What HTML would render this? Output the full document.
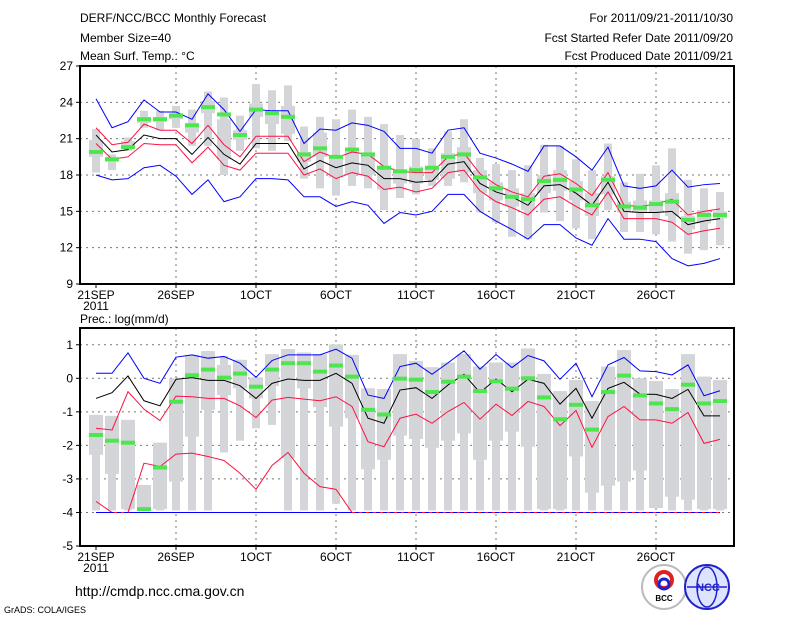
<!DOCTYPE html>
<html><head><meta charset="utf-8"><style>
body{margin:0;background:#fff;}
svg{display:block;font-family:"Liberation Sans",sans-serif;}
</style></head><body>
<svg id="c" width="800" height="618" xmlns="http://www.w3.org/2000/svg">
<g font-size="12" fill="#000">
<text x="80" y="22">DERF/NCC/BCC Monthly Forecast</text>
<text x="80" y="42">Member Size=40</text>
<text x="80" y="60">Mean Surf. Temp.: °C</text>
<text x="733" y="22" text-anchor="end">For 2011/09/21-2011/10/30</text>
<text x="733" y="42" text-anchor="end">Fcst Started Refer Date 2011/09/20</text>
<text x="733" y="60" text-anchor="end">Fcst Produced Date 2011/09/21</text>
<text x="80" y="323">Prec.: log(mm/d)</text>
</g>
<text x="75" y="596" font-size="14">http://cmdp.ncc.cma.gov.cn</text>
<text x="4" y="613" font-size="9">GrADS: COLA/IGES</text>
<g>
<circle cx="664" cy="587" r="22" fill="#fff" stroke="#bbb" stroke-width="2"/>
<circle cx="664" cy="580" r="8" fill="none" stroke="#d22" stroke-width="4"/>
<circle cx="664" cy="584" r="5" fill="none" stroke="#22c" stroke-width="3"/>
<text x="664" y="601" font-size="8" text-anchor="middle" font-weight="bold">BCC</text>
</g>
<g>
<circle cx="707" cy="587" r="22" fill="#dde4ff" stroke="#22c" stroke-width="2"/>
<ellipse cx="707" cy="587" rx="10" ry="20" fill="none" stroke="#22c" stroke-width="1.5"/>
<line x1="687" y1="587" x2="727" y2="587" stroke="#22c" stroke-width="1.5"/>
<text x="708" y="591" font-size="11" text-anchor="middle" fill="#22c" font-weight="bold">NCC</text>
</g>
</svg>
<script>
// ---- Temperature data ----
const tBlueHi=[24.3,21.9,22.4,24.2,23.2,23.2,22.6,24.7,23.4,21.6,23.4,23.3,23.3,20.6,21.8,21.7,22.3,22.1,21.6,20.2,20.2,19.8,21.7,21.9,19.8,19.4,18.9,18.3,20.4,20.4,19.5,18.4,20.3,17.1,16.9,17.1,18.4,17.0,17.2,17.3];
const tRedHi=[21.9,20.5,20.7,22.2,21.7,21.7,20.6,22.1,20.5,19.5,21.2,21.2,21.2,19.1,19.9,19.4,19.9,19.7,18.7,18.3,18.2,18.2,19.5,19.8,18.1,17.2,16.6,16.2,17.9,18.1,17.3,16.3,18.2,15.5,15.4,15.6,16.0,14.7,15.0,15.2];
const tMean=[21.3,19.9,20.1,21.3,21.0,21.0,19.7,21.1,19.7,18.9,20.6,20.6,20.6,18.5,19.2,18.6,19.0,18.8,17.7,17.7,17.4,17.5,18.9,19.1,17.3,16.6,16.2,15.5,17.1,17.2,16.5,15.5,17.4,15.0,14.9,14.9,15.0,13.9,14.2,14.4];
const tRedLo=[20.6,19.3,19.5,20.6,20.5,20.5,19.0,20.3,18.8,18.4,19.8,19.8,19.8,18.0,18.5,17.7,18.2,17.9,16.8,17.0,16.6,16.9,18.2,18.4,16.7,15.8,15.3,14.7,16.0,16.2,15.4,14.7,16.6,14.4,14.4,14.4,14.1,13.1,13.4,13.6];
const tBlueLo=[18.0,17.6,17.7,18.6,18.8,17.9,16.4,17.6,15.8,16.2,17.7,17.7,17.6,16.2,16.2,15.4,15.8,15.5,14.0,14.9,14.7,15.0,16.4,16.4,15.0,14.2,13.5,12.7,13.9,13.9,12.8,12.2,14.4,12.7,12.7,12.5,11.1,10.5,10.7,11.1];
const tObs=[19.9,19.3,20.3,22.6,22.6,22.9,22.1,23.6,23.0,21.3,23.4,23.1,22.8,19.7,20.2,19.5,20.1,19.7,18.6,18.3,18.4,18.6,19.5,19.7,17.8,16.9,16.2,16.0,17.5,17.6,16.8,15.5,17.6,15.4,15.3,15.6,15.8,14.3,14.7,14.7];
const tMax=[21.8,19.7,21.1,23.3,23.3,23.7,23.4,24.9,24.4,22.9,25.5,25.0,25.4,22.0,22.8,22.6,23.4,22.8,22.2,21.3,21.0,20.2,21.6,22.6,19.4,18.9,18.4,18.8,20.5,20.4,19.3,18.4,20.6,17.4,18.1,18.8,20.2,17.6,16.9,16.6];
const tQ3=[20.9,19.5,20.8,22.8,22.8,23.1,22.3,24.1,22.6,21.7,23.9,23.3,23.7,19.9,21.5,19.4,19.9,19.7,18.7,18.4,18.7,18.7,19.8,20.3,18.4,17.4,16.9,16.5,18.0,18.4,17.5,16.5,17.9,15.8,15.9,15.9,16.5,14.6,15.1,15.0];
const tQ1=[19.5,19.1,20.2,22.3,22.4,22.6,21.5,23.1,19.3,20.9,22.8,22.2,21.4,19.1,19.5,17.8,18.0,18.0,16.8,17.3,17.3,17.6,17.7,18.2,16.5,15.9,15.4,15.1,16.5,16.7,15.9,14.6,16.4,14.9,14.9,14.9,14.6,13.5,14.0,14.4];
const tMin=[18.2,18.4,20.0,21.9,21.7,21.9,20.4,20.4,18.0,20.0,20.2,20.0,20.8,17.7,16.9,16.3,17.1,16.9,15.1,16.1,16.4,17.1,17.1,17.4,14.9,14.1,12.9,12.7,14.9,14.2,13.6,12.7,15.1,13.3,13.3,13.1,12.5,11.5,11.8,12.2];
const tTicks=[9,12,15,18,21,24,27];
// ---- Precipitation data ----
const pBlueHi=[0.15,0.15,0.76,0.0,-0.15,0.63,0.7,0.6,0.65,0.45,0.03,0.53,0.7,0.7,0.7,0.87,0.6,-0.5,-0.6,0.35,0.45,0.12,0.46,0.82,0.27,0.71,0.32,0.68,0.52,-0.03,0.45,-0.55,0.40,0.62,0.22,0.2,0.1,0.4,-0.52,-0.37];
const pMean=[-0.6,-0.43,0.07,-0.67,-0.82,-0.03,0.02,-0.06,-0.06,-0.22,-0.6,-0.15,-0.02,-0.06,-0.06,0.15,-0.15,-1.19,-1.34,-0.35,-0.28,-0.6,-0.2,0.12,-0.43,-0.02,-0.4,-0.03,-0.15,-0.77,-0.3,-1.19,-0.3,-0.12,-0.47,-0.48,-0.6,-0.33,-1.12,-1.12];
const pRedHi=[-1.49,-1.54,-0.4,-0.92,-1.26,-0.53,-0.55,-0.6,-0.6,-0.82,-1.17,-0.65,-0.57,-0.62,-0.67,-0.55,-0.84,-1.89,-2.04,-1.19,-1.07,-1.34,-0.99,-0.72,-1.22,-0.77,-1.11,-0.69,-0.84,-1.41,-0.96,-2.06,-1.14,-0.84,-1.24,-1.24,-1.34,-1.02,-1.94,-1.82];
const pRedLo=[-3.67,-4,-4,-2.53,-2.63,-2.26,-2.23,-2.33,-2.45,-2.83,-3.31,-2.6,-2.21,-2.83,-3.23,-3.31,-4,-4,-4,-4,-4,-4,-4,-4,-4,-4,-4,-4,-4,-4,-4,-4,-4,-4,-4,-4,-4,-4,-4,-4];
const pBlueLo=[-4,-4,-4,-4,-4,-4,-4,-4,-4,-4,-4,-4,-4,-4,-4,-4,-4,-4,-4,-4,-4,-4,-4,-4,-4,-4,-4,-4,-4,-4,-4,-4,-4,-4,-4,-4,-4,-4,-4,-4];
const pObs=[-1.69,-1.86,-1.92,-3.9,-2.66,-0.7,0.09,0.26,0.02,0.14,-0.25,0.26,0.45,0.45,0.2,0.38,0.05,-0.94,-1.08,-0.01,-0.04,-0.41,-0.1,0.05,-0.38,-0.09,-0.31,0.0,-0.57,-1.22,-0.79,-1.53,-0.41,0.08,-0.51,-0.75,-0.92,-0.19,-0.75,-0.68];
const pMax=[-1.09,-1.12,-1.24,-3.18,-1.92,0.0,0.7,0.81,0.67,0.55,0.03,0.72,0.87,0.77,0.72,1.01,0.7,-0.3,-0.32,0.72,0.52,0.33,0.47,0.72,0.35,0.47,0.47,0.89,0.13,-0.38,-0.05,-0.68,0.35,0.84,0.0,-0.08,-0.32,0.72,0.05,-0.05];
const pQ3=[-1.09,-1.12,-1.24,-3.18,-1.92,0.0,0.7,0.81,0.4,0.55,0.03,0.72,0.87,0.77,0.72,1.01,0.7,-0.3,-0.32,0.72,0.52,0.33,0.47,0.72,0.35,0.47,0.47,0.89,0.13,-0.38,-0.05,-0.68,0.35,0.84,0.0,-0.08,-0.32,0.72,0.05,-0.05];
const pQ1=[-2.28,-2.85,-3.9,-3.9,-3.9,-3.08,-1.74,-0.94,-0.5,-0.3,-0.6,-0.23,-2.38,-0.3,-0.86,-1.44,-1.19,-2.71,-2.43,-1.71,-1.81,-2.07,-1.86,-1.64,-2.43,-1.86,-1.59,-2.04,-3.9,-3.9,-2.33,-3.41,-3.2,-3.08,-2.75,-3.87,-3.53,-3.62,-3.9,-3.9];
const pMin=[-3.94,-3.94,-3.94,-3.94,-3.94,-3.94,-3.94,-3.94,-2.21,-1.86,-1.49,-1.39,-3.94,-3.94,-3.94,-3.74,-3.94,-3.94,-3.94,-3.94,-3.94,-3.94,-3.94,-3.94,-3.94,-3.94,-3.94,-3.94,-3.94,-3.94,-3.94,-3.94,-3.94,-3.94,-3.94,-3.87,-3.94,-3.94,-3.94,-3.94];
const pTicks=[-5,-4,-3,-2,-1,0,1];
const xLabels=["21SEP","26SEP","1OCT","6OCT","11OCT","16OCT","21OCT","26OCT"];

const NS="http://www.w3.org/2000/svg";
const svg=document.getElementById('c');
const X0=80,X1=734;
const xOf=d=>96+16*d;
function mk(tag,attrs,parent){const e=document.createElementNS(NS,tag);for(const k in attrs)e.setAttribute(k,attrs[k]);(parent||svg).appendChild(e);return e;}

function panel(name,top,bot,vmin,vmax,ticks,series,boxes,obs,dashed){
  const g=mk('g',{});
  
  
  const yOf=v=>bot-(v-vmin)/(vmax-vmin)*(bot-top);
  // grid
  ticks.forEach(t=>{
    const y=yOf(t);
    if(t!==vmin&&t!==vmax){const l=mk('line',{x1:X0,x2:X1,y1:y,y2:y,stroke:'#777','stroke-dasharray':'2,4','stroke-width':1},g);
    
    }
    const tl=mk('line',{x1:76,x2:X0,y1:y,y2:y,stroke:'#000'},g);
    
    
    const tx=mk('text',{x:73,y:y+4,'text-anchor':'end','font-size':12},g);
    tx.textContent=t;
    
    
  });
  xLabels.forEach((lab,i)=>{
    const x=xOf(i*5);
    if(i>0){const l=mk('line',{x1:x,x2:x,y1:top,y2:bot,stroke:'#777','stroke-dasharray':'2,4'},g);
    
    }
    const tk=mk('line',{x1:x,x2:x,y1:bot,y2:bot+4,stroke:'#000'},g);
    
    
    const tx=mk('text',{x:x,y:bot+15,'text-anchor':'middle','font-size':12},g);
    tx.textContent=lab;
    
    
  });
  const yr=mk('text',{x:96,y:bot+26,'text-anchor':'middle','font-size':12},g);
  yr.textContent='2011';
  
  
  // boxes
  const [mx,q3,q1,mn]=boxes;
  mx.forEach((v,d)=>{
    const x=xOf(d);
    const w=mk('rect',{x:x-4,y:yOf(mx[d]),width:8,height:Math.max(1,yOf(mn[d])-yOf(mx[d])),fill:'#d4d5d9'},g);
    
    
    const b=mk('rect',{x:x-7,y:yOf(q3[d]),width:14,height:Math.max(1,yOf(q1[d])-yOf(q3[d])),fill:'#d4d5d9'},g);
    
    
  });
  series.forEach(([arr,col,nm])=>{
    const p=mk('polyline',{points:arr.map((v,d)=>xOf(d)+','+yOf(v)).join(' '),fill:'none',stroke:col,'stroke-width':1},g);
    
    
  });
  if(dashed){
    const dl=mk('line',{x1:xOf(0),x2:xOf(39),y1:yOf(-4),y2:yOf(-4),stroke:'#00f','stroke-dasharray':'4,3'},g);
    
    
  }
  obs.forEach((v,d)=>{
    const r=mk('rect',{x:xOf(d)-7,y:yOf(v)-2,width:14,height:4,fill:'#4ee64e'},g);
    
    
  });
  const f=mk('rect',{x:X0,y:top,width:X1-X0,height:bot-top,fill:'none',stroke:'#000','stroke-width':2},g);
  
  
}
panel('temperature-panel',66,284,9,27,tTicks,
 [[tBlueHi,'#0000ff','blue-upper-line'],[tBlueLo,'#0000ff','blue-lower-line'],[tRedHi,'#ff1040','red-upper-line'],[tRedLo,'#ff1040','red-lower-line'],[tMean,'#000','ensemble-mean-line']],
 [tMax,tQ3,tQ1,tMin],tObs,false);
panel('precipitation-panel',328,546,-5,1.5,pTicks,
 [[pBlueLo,'#0000ff','blue-lower-line'],[pBlueHi,'#0000ff','blue-upper-line'],[pRedHi,'#ff1040','red-upper-line'],[pRedLo,'#ff1040','red-lower-line'],[pMean,'#000','ensemble-mean-line']],
 [pMax,pQ3,pQ1,pMin],pObs,true);
</script>
</body></html>
